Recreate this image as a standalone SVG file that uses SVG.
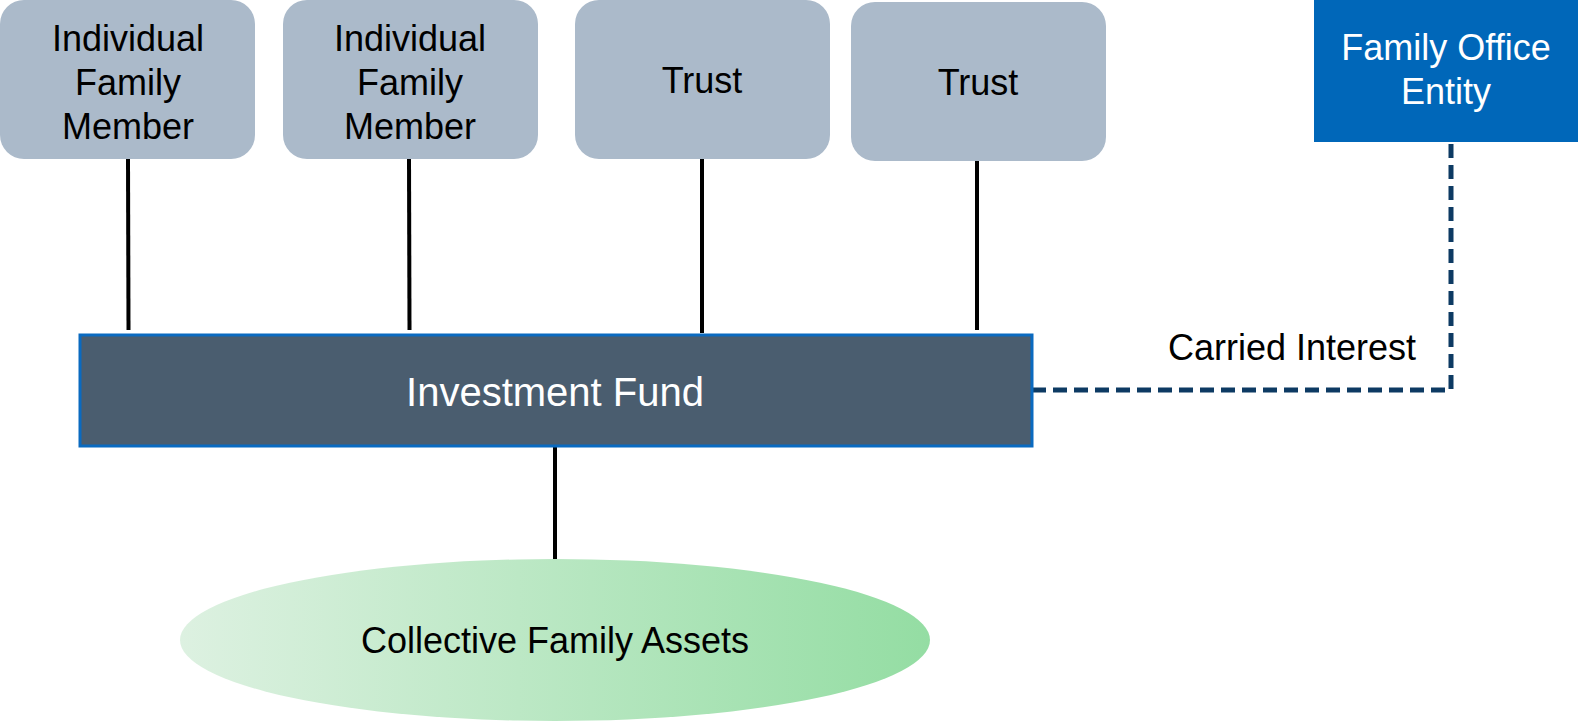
<svg xmlns="http://www.w3.org/2000/svg" width="1578" height="723" viewBox="0 0 1578 723">
  <defs>
    <linearGradient id="assetFill" x1="0" y1="0" x2="1" y2="0">
      <stop offset="0" stop-color="#DDF1E1"/>
      <stop offset="1" stop-color="#94DDA3"/>
    </linearGradient>
    <style>
      .member { fill: #ABBACA; }
      .label { font-family: "Liberation Sans", Arial, sans-serif; font-size: 36px; text-anchor: middle; fill: #000; }
      .light { fill: #FFFFFF; }
      .link { stroke: #000; stroke-width: 4; fill: none; }
      .carry { stroke: #0D3A63; stroke-width: 5; fill: none; stroke-dasharray: 14 7; }
    </style>
  </defs>

  <rect width="1578" height="723" fill="#FFFFFF"/>

  <!-- connectors -->
  <g id="connectors">
    <line class="link" x1="128" y1="159" x2="128.5" y2="330"/>
    <line class="link" x1="409" y1="159" x2="409.5" y2="330"/>
    <line class="link" x1="702" y1="159" x2="702" y2="333"/>
    <line class="link" x1="977" y1="161" x2="977" y2="330"/>
    <line class="link" x1="555" y1="446" x2="555" y2="559"/>
    <polyline class="carry" points="1032,390 1451,390 1451,141"/>
  </g>

  <!-- owners -->
  <g id="member-1">
    <rect class="member" x="0" y="0" width="255" height="159" rx="24"/>
    <text class="label" x="128" y="51">Individual</text>
    <text class="label" x="128" y="95">Family</text>
    <text class="label" x="128" y="139">Member</text>
  </g>
  <g id="member-2">
    <rect class="member" x="283" y="0" width="255" height="159" rx="24"/>
    <text class="label" x="410" y="51">Individual</text>
    <text class="label" x="410" y="95">Family</text>
    <text class="label" x="410" y="139">Member</text>
  </g>
  <g id="trust-1">
    <rect class="member" x="575" y="0" width="255" height="159" rx="24"/>
    <text class="label" x="702" y="93">Trust</text>
  </g>
  <g id="trust-2">
    <rect class="member" x="851" y="2" width="255" height="159" rx="24"/>
    <text class="label" x="978" y="95">Trust</text>
  </g>

  <g id="family-office">
    <rect x="1314" y="0" width="264" height="142" fill="#0067B9"/>
    <text class="label light" x="1446" y="60">Family Office</text>
    <text class="label light" x="1446" y="104">Entity</text>
  </g>

  <g id="investment-fund">
    <rect x="80" y="335" width="952" height="111" fill="#4A5D6F" stroke="#0A6AC0" stroke-width="3"/>
    <text class="label light" x="555" y="406" style="font-size:40px">Investment Fund</text>
  </g>

  <g id="carried-interest">
    <text class="label" x="1292" y="360">Carried Interest</text>
  </g>

  <g id="family-assets">
    <ellipse cx="555" cy="640" rx="375" ry="81" fill="url(#assetFill)"/>
    <text class="label" x="555" y="653">Collective Family Assets</text>
  </g>
</svg>
